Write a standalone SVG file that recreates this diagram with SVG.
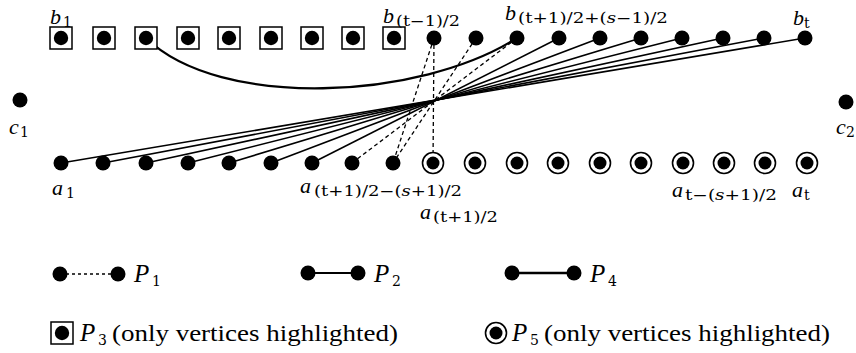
<svg xmlns="http://www.w3.org/2000/svg" width="856" height="353" viewBox="0 0 856 353">
<style>
.v{font-family:"Liberation Serif",serif;font-style:italic;font-size:22px;fill:#000}
.s{font-family:"DejaVu Serif",serif;font-size:14px;fill:#000}
.it{font-style:italic}
.lt{font-family:"Liberation Serif",serif;font-size:24px;fill:#000}
.lp{font-family:"Liberation Serif",serif;font-style:italic;font-size:25px;fill:#000}
.sq{fill:#fff;stroke:#000;stroke-width:1.5}
.ring{fill:#fff;stroke:#000;stroke-width:1.6}
.sol{stroke:#000;stroke-width:1.6;fill:none}
.cur{stroke:#000;stroke-width:2.3;fill:none}
.dash{stroke:#000;stroke-width:1.3;stroke-dasharray:4 3;fill:none}
</style>
<defs>
<circle id="dot" r="7.5" fill="#000"/>
<g id="sqdot"><rect class="sq" x="-11" y="-11" width="22" height="22"/><circle r="7.2" fill="#000"/></g>
<g id="cdot"><circle class="ring" r="10.5"/><circle r="6.5" fill="#000"/></g>
</defs>
<g id="connectors">
<path class="cur" d="M146,38 C220,110 420,100 517,38"/>
<line class="sol" x1="61" y1="163" x2="805" y2="38"/>
<line class="sol" x1="103" y1="163" x2="764" y2="38"/>
<line class="sol" x1="146" y1="163" x2="723" y2="38"/>
<line class="sol" x1="188" y1="163" x2="682" y2="38"/>
<line class="sol" x1="229" y1="163" x2="641" y2="38"/>
<line class="sol" x1="271" y1="163" x2="600" y2="38"/>
<line class="sol" x1="312" y1="163" x2="559" y2="38"/>
<line class="dash" x1="434" y1="38" x2="433" y2="163"/>
<line class="dash" x1="434" y1="38" x2="393" y2="163"/>
<line class="dash" x1="476" y1="38" x2="393" y2="163"/>
<line class="dash" x1="517" y1="38" x2="352" y2="163"/>
</g>
<g id="b-nodes">
<g id="b1"><use href="#sqdot" x="61" y="38"/><text class="v" x="50" y="24">b</text><text class="s" x="63" y="27">1</text></g>
<g id="b2"><use href="#sqdot" x="104" y="38"/></g>
<g id="b3"><use href="#sqdot" x="146" y="38"/></g>
<g id="b4"><use href="#sqdot" x="188" y="38"/></g>
<g id="b5"><use href="#sqdot" x="229" y="38"/></g>
<g id="b6"><use href="#sqdot" x="271" y="38"/></g>
<g id="b7"><use href="#sqdot" x="312" y="38"/></g>
<g id="b8"><use href="#sqdot" x="353" y="38"/></g>
<g id="b9"><use href="#sqdot" x="394" y="38"/><text class="v" x="383" y="23">b</text><text class="s" x="396" y="26" textLength="64" lengthAdjust="spacingAndGlyphs">(t−1)/2</text></g>
<g id="b10"><use href="#dot" x="434" y="38"/></g>
<g id="b11"><use href="#dot" x="476" y="38"/></g>
<g id="b12"><use href="#dot" x="517" y="38"/><text class="v" x="505" y="20">b</text><text class="s" x="518" y="23" textLength="150" lengthAdjust="spacingAndGlyphs">(t+1)/2+(<tspan class="it">s</tspan>−1)/2</text></g>
<g id="b13"><use href="#dot" x="559" y="38"/></g>
<g id="b14"><use href="#dot" x="600" y="38"/></g>
<g id="b15"><use href="#dot" x="641" y="38"/></g>
<g id="b16"><use href="#dot" x="682" y="38"/></g>
<g id="b17"><use href="#dot" x="723" y="38"/></g>
<g id="b18"><use href="#dot" x="764" y="38"/></g>
<g id="b19"><use href="#dot" x="805" y="38"/><text class="v" x="793" y="25">b</text><text class="s" x="804" y="28">t</text></g>
</g>
<g id="c-nodes">
<g id="c1"><use href="#dot" x="20" y="100"/><text class="v" x="9" y="134">c</text><text class="s" x="20" y="137">1</text></g>
<g id="c2"><use href="#dot" x="846" y="102"/><text class="v" x="836" y="134">c</text><text class="s" x="846" y="137">2</text></g>
</g>
<g id="a-nodes">
<g id="a1"><use href="#dot" x="61" y="163"/><text class="v" x="52" y="195">a</text><text class="s" x="66" y="198">1</text></g>
<g id="a2"><use href="#dot" x="103" y="163"/></g>
<g id="a3"><use href="#dot" x="146" y="163"/></g>
<g id="a4"><use href="#dot" x="188" y="163"/></g>
<g id="a5"><use href="#dot" x="229" y="163"/></g>
<g id="a6"><use href="#dot" x="271" y="163"/></g>
<g id="a7"><use href="#dot" x="312" y="163"/><text class="v" x="300" y="193">a</text><text class="s" x="314" y="196" textLength="148" lengthAdjust="spacingAndGlyphs">(t+1)/2−(<tspan class="it">s</tspan>+1)/2</text></g>
<g id="a8"><use href="#dot" x="352" y="163"/></g>
<g id="a9"><use href="#dot" x="393" y="163"/></g>
<g id="a10"><use href="#cdot" x="433" y="163"/><text class="v" x="420" y="219">a</text><text class="s" x="433" y="222" textLength="65" lengthAdjust="spacingAndGlyphs">(t+1)/2</text></g>
<g id="a11"><use href="#cdot" x="475" y="163"/></g>
<g id="a12"><use href="#cdot" x="517" y="163"/></g>
<g id="a13"><use href="#cdot" x="558" y="163"/></g>
<g id="a14"><use href="#cdot" x="600" y="163"/></g>
<g id="a15"><use href="#cdot" x="641" y="163"/></g>
<g id="a16"><use href="#cdot" x="683" y="163"/><text class="v" x="672" y="197">a</text><text class="s" x="685" y="200" textLength="92" lengthAdjust="spacingAndGlyphs">t−(<tspan class="it">s</tspan>+1)/2</text></g>
<g id="a17"><use href="#cdot" x="724" y="163"/></g>
<g id="a18"><use href="#cdot" x="765" y="163"/></g>
<g id="a19"><use href="#cdot" x="807" y="163"/><text class="v" x="792" y="197">a</text><text class="s" x="804" y="200">t</text></g>
</g>
<g id="legend">
<g id="leg-p1"><line class="dash" x1="60" y1="274" x2="118" y2="274" style="stroke-dasharray:3 3"/><use href="#dot" x="60" y="274"/><use href="#dot" x="118" y="274"/><text class="lp" x="134" y="282">P</text><text class="s" x="152" y="286">1</text></g>
<g id="leg-p2"><line class="sol" x1="308" y1="273" x2="358" y2="273" style="stroke-width:2"/><use href="#dot" x="308" y="273"/><use href="#dot" x="358" y="273"/><text class="lp" x="374" y="282">P</text><text class="s" x="392" y="286">2</text></g>
<g id="leg-p4"><line class="sol" x1="512" y1="273" x2="574" y2="273" style="stroke-width:2.5"/><use href="#dot" x="512" y="273"/><use href="#dot" x="574" y="273"/><text class="lp" x="590" y="282">P</text><text class="s" x="608" y="286">4</text></g>
<g id="leg-p3"><use href="#sqdot" x="62" y="333"/><text class="lp" x="80" y="341">P</text><text class="s" x="98" y="345">3</text><text class="lt" x="112" y="341" textLength="286" lengthAdjust="spacingAndGlyphs">(only vertices highlighted)</text></g>
<g id="leg-p5"><use href="#cdot" x="496" y="333"/><text class="lp" x="512" y="341">P</text><text class="s" x="530" y="345">5</text><text class="lt" x="544" y="341" textLength="286" lengthAdjust="spacingAndGlyphs">(only vertices highlighted)</text></g>
</g>
</svg>
